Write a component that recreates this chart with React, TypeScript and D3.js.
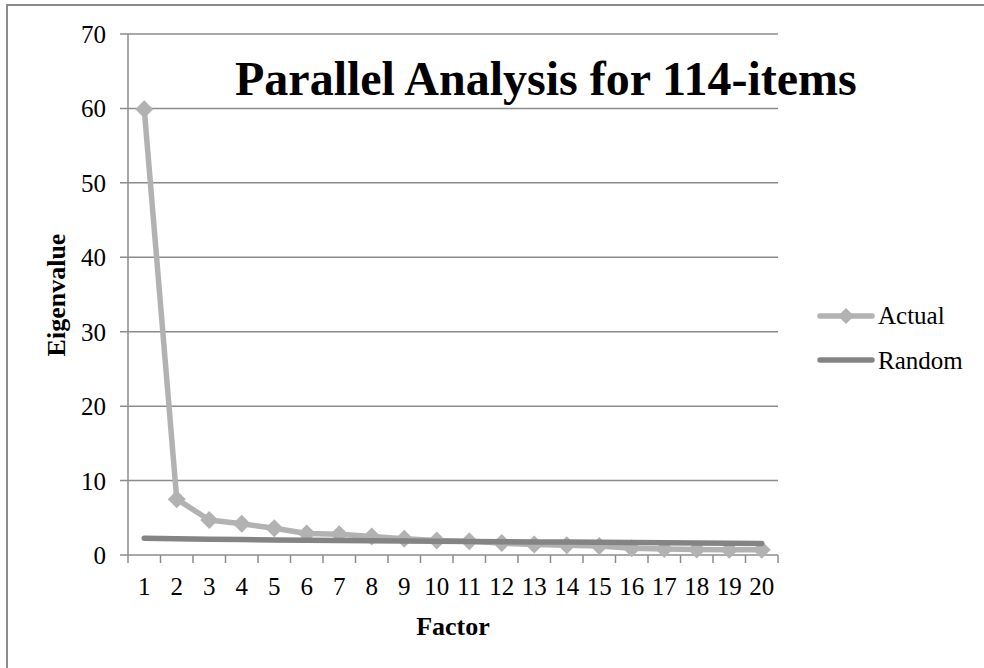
import React from "react";
import * as d3 from "d3";

const factors = [1, 2, 3, 4, 5, 6, 7, 8, 9, 10, 11, 12, 13, 14, 15, 16, 17, 18, 19, 20];
const actual = [59.9, 7.5, 4.7, 4.2, 3.6, 2.9, 2.8, 2.5, 2.2, 1.95, 1.85, 1.6, 1.4, 1.3, 1.2, 0.9, 0.8, 0.75, 0.7, 0.7];
const random = [2.25, 2.18, 2.12, 2.07, 2.03, 1.99, 1.95, 1.92, 1.88, 1.85, 1.82, 1.79, 1.76, 1.73, 1.7, 1.67, 1.64, 1.62, 1.59, 1.56];
const yTicks = [0, 10, 20, 30, 40, 50, 60, 70];

const FONT = "Liberation Serif";

export default function App() {
  const W = 984, H = 668;
  const left = 128, right = 778, top = 34, bottom = 555;
  const x = d3.scaleBand<number>().domain(factors).range([left, right]).paddingInner(0).paddingOuter(0);
  const y = d3.scaleLinear().domain([0, 70]).range([bottom, top]);
  const cx = (f: number) => (x(f) as number) + x.bandwidth() / 2;
  const lineA = d3.line<number>().x((_, i) => cx(factors[i])).y((d) => y(d));
  const gridColor = "#8c8c8c";
  const actualColor = "#b2b2b2";
  const randomColor = "#848484";
  const diamond = (px: number, py: number, r: number) =>
    `M${px},${py - r}L${px + r},${py}L${px},${py + r}L${px - r},${py}Z`;
  const boundaries = [...factors.map((f) => x(f) as number), right];
  const ts = { fontFamily: FONT };

  return (
    <svg width={W} height={H} style={{ position: "absolute", left: 0, top: 0, fontFamily: FONT }}>
      <rect x={0} y={0} width={W} height={H} fill="#fff" />
      <rect x={7} y={5} width={W + 20} height={H + 20} fill="none" stroke="#8c8c8c" strokeWidth={2} />
      {yTicks.map((t) => (
        <g key={t}>
          <line x1={left - 8} x2={right} y1={y(t)} y2={y(t)} stroke={gridColor} strokeWidth={1.5} />
          <text x={106} y={y(t) + 9} textAnchor="end" fontSize={25} style={ts}>{t}</text>
        </g>
      ))}
      <line x1={left} x2={left} y1={top} y2={bottom} stroke={gridColor} strokeWidth={1.5} />
      {boundaries.map((b, i) => (
        <line key={i} x1={b} x2={b} y1={bottom} y2={bottom + 8} stroke={gridColor} strokeWidth={1.5} />
      ))}
      {factors.map((f) => (
        <text key={f} x={cx(f)} y={595} textAnchor="middle" fontSize={25} style={ts}>{f}</text>
      ))}
      <path d={lineA(actual) || ""} fill="none" stroke={actualColor} strokeWidth={5.5} strokeLinejoin="round" />
      {actual.map((v, i) => (
        <path key={i} d={diamond(cx(factors[i]), y(v), 9)} fill={actualColor} />
      ))}
      <path d={lineA(random) || ""} fill="none" stroke={randomColor} strokeWidth={5.5} strokeLinecap="round" strokeLinejoin="round" />
      <text x={235} y={95} textAnchor="start" fontSize={48} fontWeight="bold" style={ts}>Parallel Analysis for 114-items</text>
      <text transform={`translate(65,295) rotate(-90)`} textAnchor="middle" fontSize={26} fontWeight="bold" style={ts}>Eigenvalue</text>
      <text x={453} y={635} textAnchor="middle" fontSize={26} fontWeight="bold" style={ts}>Factor</text>
      <line x1={820} x2={872} y1={316} y2={316} stroke={actualColor} strokeWidth={5.5} strokeLinecap="round" />
      <path d={diamond(846, 316, 8)} fill={actualColor} />
      <text x={878} y={324} fontSize={25} style={ts}>Actual</text>
      <line x1={820} x2={872} y1={360} y2={360} stroke={randomColor} strokeWidth={5.5} strokeLinecap="round" />
      <text x={878} y={369} fontSize={25} style={ts}>Random</text>
    </svg>
  );
}
